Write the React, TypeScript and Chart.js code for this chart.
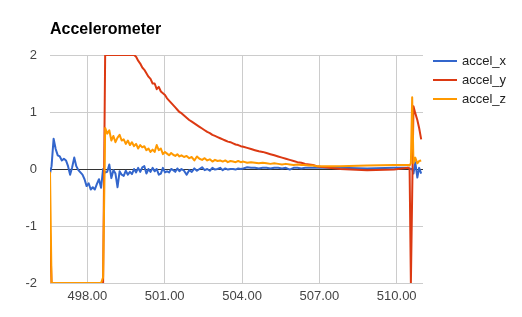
import React, { useEffect, useRef } from 'react';
import { Chart, registerables } from 'chart.js';

Chart.register(...registerables);

const TITLE = 'Accelerometer';
const SERIES_NAMES = ['accel_x', 'accel_y', 'accel_z'];
const SERIES_COLORS = ['#3366cc', '#dc3912', '#ff9900'];
const X_TICKS = [498, 501, 504, 507, 510];
const Y_TICKS = [-2, -1, 0, 1, 2];
const X_MIN = 496.55;
const X_MAX = 511.02;
const Y_MIN = -2;
const Y_MAX = 2;

const TIME = [
  496.55, 496.61, 496.69, 496.77, 496.85, 496.93, 497.01, 497.09, 497.17, 497.25,
  497.33, 497.41, 497.49, 497.57, 497.65, 497.73, 497.81, 497.89, 497.97, 498.05,
  498.13, 498.21, 498.29, 498.37, 498.45, 498.53, 498.61, 498.69, 498.77, 498.85,
  498.93, 499.01, 499.09, 499.17, 499.25, 499.33, 499.41, 499.49, 499.57, 499.65,
  499.73, 499.81, 499.89, 499.97, 500.05, 500.13, 500.21, 500.29, 500.37, 500.45,
  500.53, 500.61, 500.69, 500.77, 500.85, 500.93, 501.01, 501.09, 501.17, 501.25,
  501.33, 501.41, 501.49, 501.57, 501.65, 501.75, 501.85, 501.95, 502.05, 502.15,
  502.25, 502.35, 502.45, 502.55, 502.65, 502.75, 502.85, 502.95, 503.05, 503.15,
  503.25, 503.35, 503.45, 503.55, 503.65, 503.75, 503.85, 503.95, 504.05, 504.2,
  504.35, 504.5, 504.65, 504.8, 504.95, 505.1, 505.25, 505.4, 505.55, 505.7,
  505.85, 506.0, 506.15, 506.3, 506.45, 506.6, 506.75, 506.9, 507.05, 507.8,
  508.85, 509.9, 510.45, 510.5, 510.55, 510.6, 510.65, 510.72, 510.8, 510.87,
  510.95,
];

const ACCEL_X = [
  -0.08, 0.05, 0.53, 0.35, 0.24, 0.22, 0.15, 0.18, 0.15, 0.05,
  -0.1, 0.03, 0.2, 0.05, -0.02, -0.06, -0.1, -0.18, -0.3, -0.25,
  -0.36, -0.32, -0.36, -0.26, -0.18, -0.33, 0.0, -0.06, -0.05, 0.08,
  -0.16, -0.02, -0.08, -0.32, -0.04, -0.1, -0.12, -0.03, -0.1, -0.05,
  -0.09, 0.0, -0.06, 0.02, -0.05, 0.03, 0.05, -0.08, 0.0, -0.05,
  0.02, -0.04, 0.0, -0.1, -0.08, 0.02, -0.06, -0.04, -0.06, 0.0,
  -0.02, -0.05, 0.01, -0.04, 0.0, -0.03, -0.1, -0.02, -0.05, 0.01,
  -0.03, 0.0, 0.03, -0.02, 0.0, -0.03, 0.02, -0.01, 0.0, 0.02,
  -0.02, 0.01, -0.01, 0.0, 0.0, -0.01, 0.01, 0.0, 0.01, 0.03,
  0.02, 0.02, 0.01, 0.02, 0.02, 0.01, 0.02, 0.02, 0.01, 0.02,
  -0.01, 0.02, 0.02, 0.01, 0.02, 0.02, 0.02, 0.02, 0.02, 0.02,
  0.01, 0.02, 0.02, 0.01, 0.0, 0.0, -0.08, 0.12, -0.15, 0.02,
  -0.08,
];

const ACCEL_Y = [
  -1.1, -2, -2, -2, -2, -2, -2, -2, -2, -2,
  -2, -2, -2, -2, -2, -2, -2, -2, -2, -2,
  -2, -2, -2, -2, -2, -2, -2, 2, 2, 2,
  2, 2, 2, 2, 2, 2, 2, 2, 2, 2,
  2, 2, 1.97, 1.9, 1.85, 1.78, 1.74, 1.68, 1.62, 1.58,
  1.5, 1.5, 1.4, 1.44, 1.36, 1.33, 1.3, 1.24, 1.2, 1.16,
  1.12, 1.08, 1.04, 1.0, 0.98, 0.94, 0.9, 0.86, 0.83, 0.8,
  0.77, 0.74, 0.71, 0.68, 0.65, 0.63, 0.6, 0.58, 0.56, 0.54,
  0.52, 0.5, 0.48, 0.47, 0.45, 0.43, 0.42, 0.4, 0.39, 0.37,
  0.35, 0.33, 0.31, 0.3, 0.28, 0.26, 0.24, 0.22, 0.2, 0.18,
  0.16, 0.14, 0.12, 0.11, 0.09, 0.08, 0.07, 0.05, 0.04, 0.0,
  -0.02, -0.01, 0.02, 0.0, -2, -0.45, 1.1, 0.98, 0.86, 0.72,
  0.52,
];

const ACCEL_Z = [
  -0.05, -2, -2, -2, -2, -2, -2, -2, -2, -2,
  -2, -2, -2, -2, -2, -2, -2, -2, -2, -2,
  -2, -2, -2, -2, -2, -2, -1.9, 0.72, 0.62, 0.68,
  0.5, 0.58, 0.47, 0.55, 0.6, 0.5, 0.52, 0.44, 0.5, 0.42,
  0.47, 0.4, 0.44, 0.36, 0.42, 0.38, 0.4, 0.33, 0.36, 0.3,
  0.34, 0.3, 0.42, 0.33, 0.36, 0.26, 0.3, 0.27, 0.24, 0.28,
  0.25, 0.23, 0.26, 0.22, 0.24, 0.21, 0.23, 0.19, 0.21, 0.15,
  0.22, 0.18, 0.16, 0.19, 0.15, 0.17, 0.13, 0.16, 0.14, 0.15,
  0.13, 0.15, 0.12, 0.14, 0.13, 0.12, 0.14, 0.12, 0.13, 0.11,
  0.12, 0.11, 0.1, 0.11, 0.1, 0.09, 0.1, 0.09, 0.08, 0.09,
  0.08, 0.07, 0.08, 0.07, 0.07, 0.06, 0.06, 0.05, 0.05, 0.05,
  0.06, 0.07, 0.07, 0.06, 0.1, 1.26, 0.1, 0.2, 0.1, 0.14,
  0.15,
];

const FONT = '"Liberation Sans", Arial, sans-serif';

export default function App() {
  const canvasRef = useRef<HTMLCanvasElement | null>(null);

  useEffect(() => {
    const canvas = canvasRef.current;
    if (!canvas) return;
    const seriesValues = [ACCEL_X, ACCEL_Y, ACCEL_Z];
    const orders = [2, 1, 0];
    const datasets = SERIES_NAMES.map((name, i) => ({
      label: name,
      data: TIME.map((t, j) => ({ x: t, y: seriesValues[i][j] })),
      borderColor: SERIES_COLORS[i],
      backgroundColor: SERIES_COLORS[i],
      borderWidth: 2,
      pointRadius: 0,
      tension: 0,
      borderJoinStyle: 'round' as const,
      fill: false,
      order: orders[i],
    }));

    const overlay = {
      id: 'overlay',
      afterDraw(chart: any) {
        const ctx = chart.ctx;
        ctx.save();
        ctx.fillStyle = '#000';
        ctx.font = `bold 16px ${FONT}`;
        ctx.textAlign = 'left';
        ctx.textBaseline = 'alphabetic';
        ctx.fillText(TITLE, 50, 34);
        ctx.font = `13px ${FONT}`;
        ctx.textBaseline = 'middle';
        SERIES_NAMES.forEach((name, i) => {
          const y = 61 + i * 19;
          ctx.strokeStyle = SERIES_COLORS[i];
          ctx.lineWidth = 2;
          ctx.beginPath();
          ctx.moveTo(433, y);
          ctx.lineTo(457, y);
          ctx.stroke();
          ctx.fillStyle = '#222';
          ctx.fillText(name, 462, y);
        });
        ctx.restore();
      },
    };

    const chart = new Chart(canvas, {
      type: 'line',
      data: { datasets },
      options: {
        animation: false,
        responsive: false,
        maintainAspectRatio: false,
        events: [],
        layout: { padding: { left: 0, right: 99, top: 55, bottom: 0 } },
        scales: {
          x: {
            type: 'linear',
            min: X_MIN,
            max: X_MAX,
            afterBuildTicks: (s: any) => {
              s.ticks = X_TICKS.map((v) => ({ value: v }));
            },
            afterFit: (s: any) => {
              s.height = 34;
            },
            grid: { color: '#cccccc', drawTicks: false, lineWidth: 1 },
            border: { display: false },
            ticks: {
              callback: (v: any) => Number(v).toFixed(2),
              font: { family: FONT, size: 13 },
              color: '#444',
              padding: 6,
              maxRotation: 0,
              autoSkip: false,
            },
          },
          y: {
            type: 'linear',
            min: Y_MIN,
            max: Y_MAX,
            afterBuildTicks: (s: any) => {
              s.ticks = Y_TICKS.map((v) => ({ value: v }));
            },
            afterFit: (s: any) => {
              s.width = 50;
            },
            grid: {
              color: (c: any) => (c.tick && c.tick.value === 0 ? '#333333' : '#cccccc'),
              drawTicks: false,
              lineWidth: 1,
            },
            border: { display: false },
            ticks: {
              callback: (v: any) => String(v),
              font: { family: FONT, size: 13 },
              color: '#444',
              padding: 13,
            },
          },
        },
        plugins: {
          legend: { display: false },
          title: { display: false },
          tooltip: { enabled: false },
        },
      },
      plugins: [overlay],
    });
    return () => chart.destroy();
  }, []);

  return (
    <div style={{ position: 'absolute', left: 0, top: 0, width: 522, height: 317, background: '#fff' }}>
      <canvas ref={canvasRef} width={522} height={317} style={{ display: 'block', width: 522, height: 317 }} />
    </div>
  );
}
